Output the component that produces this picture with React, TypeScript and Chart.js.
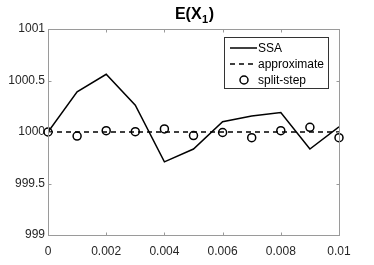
import React, { useEffect, useRef } from "react";
import { Chart, registerables } from "chart.js";

Chart.register(...registerables);

const xValues = [0, 0.001, 0.002, 0.003, 0.004, 0.005, 0.006, 0.007, 0.008, 0.009, 0.01];
const ssaValues = [1000, 1000.39, 1000.56, 1000.26, 999.71, 999.835, 1000.1, 1000.155, 1000.19, 999.835, 1000.05];
const approxValues = [1000, 1000, 1000, 1000, 1000, 1000, 1000, 1000, 1000, 1000, 1000];
const splitStepValues = [1000, 999.96, 1000.013, 1000.003, 1000.03, 999.965, 999.995, 999.945, 1000.013, 1000.045, 999.945];
const xTickValues = [0, 0.002, 0.004, 0.006, 0.008, 0.01];
const xTickLabels = ["0", "0.002", "0.004", "0.006", "0.008", "0.01"];
const yTickValues = [999, 999.5, 1000, 1000.5, 1001];
const yTickLabels = ["999", "999.5", "1000", "1000.5", "1001"];
const seriesNames = ["SSA", "approximate", "split-step"];

const FONT = "'Liberation Sans', Arial, Helvetica, sans-serif";

const boxPlugin = {
  id: "matlabBox",
  afterDatasetsDraw(chart: any) {
    const { ctx, chartArea: a, scales } = chart;
    const L = Math.round(a.left) + 0.5, R = Math.round(a.right) + 0.5;
    const T = Math.round(a.top) + 0.5, B = Math.round(a.bottom) + 0.5;
    ctx.save();
    ctx.strokeStyle = "#9a9a9a";
    ctx.lineWidth = 1;
    ctx.strokeRect(L, T, R - L, B - T);
    const tl = 3;
    ctx.beginPath();
    xTickValues.forEach((v) => {
      const px = Math.round(scales.x.getPixelForValue(v)) + 0.5;
      ctx.moveTo(px, B); ctx.lineTo(px, B - tl);
      ctx.moveTo(px, T); ctx.lineTo(px, T + tl);
    });
    yTickValues.forEach((v) => {
      const py = Math.round(scales.y.getPixelForValue(v)) + 0.5;
      ctx.moveTo(L, py); ctx.lineTo(L + tl, py);
      ctx.moveTo(R, py); ctx.lineTo(R - tl, py);
    });
    ctx.stroke();

    // legend
    const lx = 224.5, ly = 37.5, lw = 104, lh = 51;
    ctx.fillStyle = "#ffffff";
    ctx.fillRect(lx, ly, lw, lh);
    ctx.strokeStyle = "#333333";
    ctx.strokeRect(lx, ly, lw, lh);
    ctx.font = `12px ${FONT}`;
    ctx.textBaseline = "middle";
    ctx.textAlign = "left";
    const rows = [48, 64, 80];
    rows.forEach((ry, i) => {
      ctx.strokeStyle = "#000";
      ctx.lineWidth = 1.5;
      if (i === 0) {
        ctx.setLineDash([]);
        ctx.beginPath(); ctx.moveTo(230, ry); ctx.lineTo(257, ry); ctx.stroke();
      } else if (i === 1) {
        ctx.setLineDash([5, 4]);
        ctx.beginPath(); ctx.moveTo(230, ry); ctx.lineTo(257, ry); ctx.stroke();
        ctx.setLineDash([]);
      } else {
        ctx.beginPath(); ctx.arc(244, ry, 4, 0, Math.PI * 2); ctx.stroke();
      }
      ctx.fillStyle = "#000";
      ctx.fillText(seriesNames[i], 258, ry + 0.5);
    });

    // title E(X_1)
    const big = `bold 16px ${FONT}`;
    const small = `bold 11px ${FONT}`;
    ctx.textBaseline = "alphabetic";
    ctx.fillStyle = "#000";
    ctx.font = big;
    const w1 = ctx.measureText("E(X").width;
    const w3 = ctx.measureText(")").width;
    ctx.font = small;
    const w2 = ctx.measureText("1").width;
    const total = w1 + w2 + w3 + 1;
    const cx = (a.left + a.right) / 2 + 1;
    let x0 = cx - total / 2;
    const base = 19;
    ctx.font = big;
    ctx.fillText("E(X", x0, base);
    x0 += w1 + 0.5;
    ctx.font = small;
    ctx.fillText("1", x0, base + 4);
    x0 += w2 + 0.5;
    ctx.font = big;
    ctx.fillText(")", x0, base);
    ctx.restore();
  },
};

export default function App() {
  const ref = useRef<HTMLCanvasElement | null>(null);
  useEffect(() => {
    if (!ref.current) return;
    const chart = new Chart(ref.current, {
      type: "line",
      data: {
        datasets: [
          {
            label: seriesNames[0],
            data: xValues.map((x, i) => ({ x, y: ssaValues[i] })),
            borderColor: "#000",
            borderWidth: 1.5,
            pointRadius: 0,
            tension: 0,
            fill: false,
          },
          {
            label: seriesNames[1],
            data: xValues.map((x, i) => ({ x, y: approxValues[i] })),
            borderColor: "#000",
            borderWidth: 1.5,
            borderDash: [5, 4],
            pointRadius: 0,
            fill: false,
          },
          {
            label: seriesNames[2],
            data: xValues.map((x, i) => ({ x, y: splitStepValues[i] })),
            showLine: false,
            borderColor: "#000",
            backgroundColor: "rgba(0,0,0,0)",
            pointStyle: "circle",
            pointRadius: 4,
            pointBorderWidth: 1.5,
            clip: false as any,
          },
        ],
      },
      options: {
        animation: false,
        responsive: true,
        maintainAspectRatio: false,
        layout: { padding: { left: 0, top: 29, right: 35, bottom: 0 } },
        plugins: { legend: { display: false }, title: { display: false }, tooltip: { enabled: false } },
        scales: {
          x: {
            type: "linear",
            min: 0,
            max: 0.01,
            afterBuildTicks: (s: any) => { s.ticks = xTickValues.map((v) => ({ value: v })); },
            afterFit: (s: any) => { s.height = 30; },
            ticks: {
              autoSkip: false,
              maxRotation: 0,
              padding: 9,
              color: "#262626",
              font: { family: FONT, size: 12 },
              callback: (v: any) => { const i = xTickValues.indexOf(Number(v)); return i >= 0 ? xTickLabels[i] : ""; },
            },
            grid: { display: false, drawTicks: false },
            border: { display: false },
          },
          y: {
            type: "linear",
            min: 999,
            max: 1001,
            afterBuildTicks: (s: any) => { s.ticks = yTickValues.map((v) => ({ value: v })); },
            afterFit: (s: any) => { s.width = 48; },
            ticks: {
              autoSkip: false,
              padding: 3,
              color: "#262626",
              font: { family: FONT, size: 12 },
              callback: (v: any) => { const i = yTickValues.indexOf(Number(v)); return i >= 0 ? yTickLabels[i] : ""; },
            },
            grid: { display: false, drawTicks: false },
            border: { display: false },
          },
        },
      },
      plugins: [boxPlugin],
    });
    return () => chart.destroy();
  }, []);
  return (
    <div style={{ position: "absolute", left: 0, top: 0, width: 374, height: 265, background: "#fff" }}>
      <canvas ref={ref} width={374} height={265} />
    </div>
  );
}
